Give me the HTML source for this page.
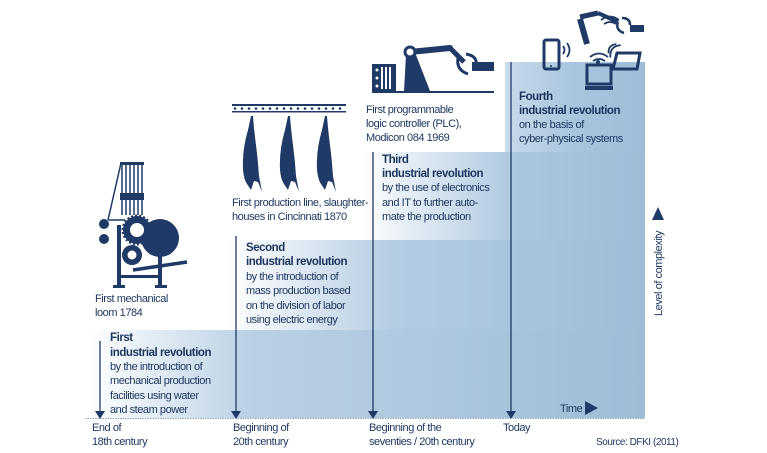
<!DOCTYPE html>
<html><head><meta charset="utf-8"><style>
html,body{margin:0;padding:0;background:#fff;}
svg{display:block;}
text{font-family:"Liberation Sans",sans-serif;font-size:11px;fill:#1c355f;letter-spacing:-0.45px;}
.b{font-weight:bold;font-size:11.5px;}
</style></head><body>
<svg width="767" height="453" viewBox="0 0 767 453" xmlns="http://www.w3.org/2000/svg">
<defs>
<linearGradient id="g1" x1="85" x2="645" y1="0" y2="0" gradientUnits="userSpaceOnUse">
<stop offset="0" stop-color="#ffffff"/><stop offset="0.05" stop-color="#f4f8fb"/><stop offset="0.3" stop-color="#b9d0e4"/><stop offset="1" stop-color="#9ebdd8"/></linearGradient>
<linearGradient id="g2" x1="225" x2="645" y1="0" y2="0" gradientUnits="userSpaceOnUse">
<stop offset="0" stop-color="#ffffff"/><stop offset="0.08" stop-color="#f2f6fa"/><stop offset="0.4" stop-color="#b3cce2"/><stop offset="1" stop-color="#9ebdd8"/></linearGradient>
<linearGradient id="g3" x1="362" x2="645" y1="0" y2="0" gradientUnits="userSpaceOnUse">
<stop offset="0" stop-color="#ffffff"/><stop offset="0.1" stop-color="#eef4f9"/><stop offset="0.55" stop-color="#abc7df"/><stop offset="1" stop-color="#9ebdd8"/></linearGradient>
<linearGradient id="g4" x1="505" x2="645" y1="0" y2="0" gradientUnits="userSpaceOnUse">
<stop offset="0" stop-color="#c7daea"/><stop offset="0.5" stop-color="#a9c5de"/><stop offset="1" stop-color="#9ebdd8"/></linearGradient>
</defs>
<rect x="85" y="330" width="560" height="88" fill="url(#g1)"/>
<rect x="225" y="240" width="420" height="90" fill="url(#g2)"/>
<rect x="362" y="152" width="283" height="88" fill="url(#g3)"/>
<rect x="505" y="62" width="140" height="90" fill="url(#g4)"/>
<line x1="85" y1="418.5" x2="645" y2="418.5" stroke="#8aa6c2" stroke-width="1" stroke-dasharray="1.5,1"/>
<g stroke="#1f3a66" stroke-width="1.3">
<line x1="100" y1="341" x2="100" y2="412"/><line x1="236" y1="236" x2="236" y2="412"/>
<line x1="373" y1="152" x2="373" y2="412"/><line x1="511" y1="62" x2="511" y2="412"/></g>
<g fill="#1f3a66">
<polygon points="95,411 105,411 100,419"/><polygon points="231,411 241,411 236,419"/>
<polygon points="368,411 378,411 373,419"/><polygon points="506,411 516,411 511,419"/>
<polygon points="585,401 585,415 598,408"/><polygon points="652,220 664,220 658,207"/>
</g>
<text x="560" y="412">Time</text>
<text transform="translate(662,316) rotate(-90)">Level of complexity</text>
<text x="110" y="341" class="b">First</text><text x="110" y="356" class="b">industrial revolution</text>
<text x="110" y="370">by the introduction of</text><text x="110" y="384">mechanical production</text>
<text x="110" y="399">facilities using water</text><text x="110" y="413">and steam power</text>
<text x="246" y="251" class="b">Second</text><text x="246" y="265" class="b">industrial revolution</text>
<text x="246" y="280">by the introduction of</text><text x="246" y="294">mass production based</text>
<text x="246" y="309">on the division of labor</text><text x="246" y="323">using electric energy</text>
<text x="382" y="163" class="b">Third</text><text x="382" y="177" class="b">industrial revolution</text>
<text x="382" y="191">by the use of electronics</text><text x="382" y="206">and IT to further auto-</text>
<text x="382" y="220">mate the production</text>
<text x="519" y="100" class="b">Fourth</text><text x="519" y="114" class="b">industrial revolution</text>
<text x="519" y="128">on the basis of</text><text x="519" y="142">cyber-physical systems</text>
<text x="95" y="302">First mechanical</text><text x="95" y="316">loom 1784</text>
<text x="232" y="206">First production line, slaughter-</text><text x="232" y="220">houses in Cincinnati 1870</text>
<text x="366" y="113">First programmable</text><text x="366" y="127">logic controller (PLC),</text><text x="366" y="141">Modicon 084 1969</text>
<text x="92" y="431">End of</text><text x="92" y="445">18th century</text>
<text x="233" y="431">Beginning of</text><text x="233" y="445">20th century</text>
<text x="369" y="431">Beginning of the</text><text x="369" y="445">seventies / 20th century</text>
<text x="503" y="431">Today</text>
<text x="596" y="445" style="font-size:10px">Source: DFKI (2011)</text>
<!-- loom -->
<g fill="#1f3a66" stroke="#1f3a66">
<rect x="120" y="162" width="24" height="3" stroke="none"/>
<g stroke-width="1.5"><line x1="122" y1="163" x2="122" y2="215"/><line x1="126" y1="163" x2="126" y2="215"/><line x1="130" y1="163" x2="130" y2="215"/><line x1="134" y1="163" x2="134" y2="215"/><line x1="138" y1="163" x2="138" y2="215"/><line x1="142" y1="163" x2="142" y2="215"/>
<line x1="121" y1="163" x2="108" y2="220"/><line x1="108" y1="220" x2="125" y2="220"/></g>
<rect x="120" y="193" width="24" height="7" stroke="none"/>
<circle cx="104" cy="224" r="5" stroke="none"/><circle cx="104" cy="239" r="5" stroke="none"/>
<circle cx="160" cy="238" r="19" stroke="none"/>
<circle cx="137" cy="230" r="14" stroke="#1f3a66" stroke-width="3" stroke-dasharray="2,2"/>
<circle cx="137" cy="230" r="13" stroke="none"/><circle cx="137" cy="230" r="7" fill="#fff" stroke="none"/>
<circle cx="132" cy="255" r="10" stroke="none"/><circle cx="132" cy="255" r="4.5" fill="#fff" stroke="none"/>
<rect x="117" y="225" width="4" height="63" stroke="none"/><rect x="158" y="245" width="4" height="43" stroke="none"/>
<rect x="113" y="285" width="12" height="3" stroke="none"/><rect x="155" y="285" width="12" height="3" stroke="none"/>
<rect x="117" y="275" width="45" height="3" stroke="none"/>
<line x1="133" y1="270" x2="187" y2="262" stroke-width="3.5"/>
</g>
<!-- carcasses -->
<rect x="232" y="104" width="114" height="2" fill="#1f3a66"/><rect x="232" y="111" width="114" height="1.5" fill="#1f3a66"/>
<g fill="#1f3a66">
<circle cx="235" cy="108.5" r="1.3"/><circle cx="242" cy="108.5" r="1.3"/><circle cx="249" cy="108.5" r="1.3"/><circle cx="256" cy="108.5" r="1.3"/><circle cx="263" cy="108.5" r="1.3"/><circle cx="270" cy="108.5" r="1.3"/><circle cx="277" cy="108.5" r="1.3"/><circle cx="284" cy="108.5" r="1.3"/><circle cx="291" cy="108.5" r="1.3"/><circle cx="298" cy="108.5" r="1.3"/><circle cx="305" cy="108.5" r="1.3"/><circle cx="312" cy="108.5" r="1.3"/><circle cx="319" cy="108.5" r="1.3"/><circle cx="326" cy="108.5" r="1.3"/><circle cx="333" cy="108.5" r="1.3"/><circle cx="340" cy="108.5" r="1.3"/>
<path id="c" d="M251,116 L248,130 Q242,150 243,170 Q244,180 247,184 L251,190 L254,181 L258,182 L262,192 L259,176 Q258,160 256,145 Q254,130 253,116 Z"/>
<use href="#c" x="37"/><use href="#c" x="74"/>
</g>
<!-- PLC robot -->
<g fill="#1f3a66" stroke="#1f3a66">
<rect x="372" y="64" width="24" height="28" stroke="none"/>
<g fill="#fff" stroke="none"><circle cx="377" cy="70" r="1.5"/><circle cx="377" cy="78" r="1.5"/><circle cx="377" cy="86" r="1.5"/><rect x="381" y="67" width="2" height="22"/><rect x="385" y="67" width="2" height="22"/><rect x="389" y="67" width="2" height="22"/></g>
<rect x="372" y="91" width="122" height="2" stroke="none"/>
<path d="M404,91 L406,55 L416,55 L430,91 Z" stroke="none"/>
<line x1="410" y1="52" x2="450" y2="48" stroke-width="6" stroke-linecap="round"/>
<line x1="450" y1="48" x2="464" y2="62" stroke-width="5"/>
<circle cx="410" cy="52" r="5" fill="#fff" stroke-width="3"/>
<path d="M458,58 Q456,70 468,74 M466,54 Q478,56 476,66" fill="none" stroke-width="3"/>
<rect x="472" y="62" width="22" height="9" stroke="none"/>
</g>
<!-- devices -->
<g fill="none" stroke="#1f3a66" stroke-width="3">
<rect x="544" y="40" width="15" height="29" rx="2"/>
<rect x="587" y="65" width="24" height="19"/>
<path d="M617,53 L640,53 L637,69 L613,69 Z"/>
<path d="M563,46 q3,4 0,8 M567,43 q5,7 0,14" stroke-width="1.8"/>
<path d="M590,57 q9,-7 18,0 M593,61 q6,-4 12,0" stroke-width="1.8"/>
<path d="M612,44 q-6,6 0,12 M616,42 q-8,8 0,16" stroke-width="1.8" transform="rotate(40 614 50)"/>
<path d="M604,24 q6,-4 12,0 M601,20 q9,-7 18,0" stroke-width="1.8"/>
<line x1="580" y1="17" x2="598" y2="13" stroke-width="5"/>
<line x1="580" y1="19" x2="587" y2="44" stroke-width="6"/>
<line x1="598" y1="13" x2="618" y2="22" stroke-width="4"/>
<path d="M618,22 q-3,8 6,11 M622,18 q8,0 8,7" stroke-width="2.5"/>
</g>
<g fill="#1f3a66"><rect x="630" y="25" width="14" height="7"/><rect x="585" y="86" width="28" height="4"/><circle cx="598" cy="62" r="2"/><circle cx="551" cy="66" r="1"/></g>
</svg>
</body></html>
